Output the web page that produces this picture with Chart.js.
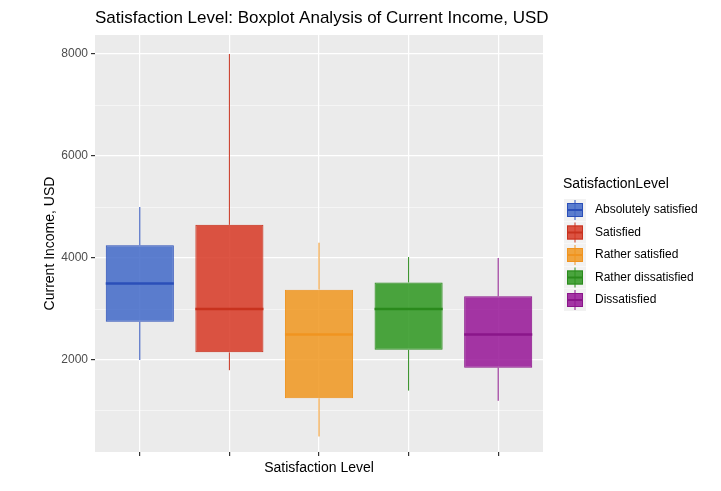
<!DOCTYPE html>
<html><head><meta charset="utf-8">
<script src="https://cdn.jsdelivr.net/npm/chart.js@4"></script>
<style>html,body{margin:0;padding:0;background:#fff}#w{width:721px;height:491px}</style>
</head><body><div id="w"><canvas id="c"></canvas></div>
<script>
const categories = ["Absolutely satisfied","Satisfied","Rather satisfied","Rather dissatisfied","Dissatisfied"];
const whiskerMin = [2000,1800,500,1400,1200];
const q1 = [2750,2150,1250,2200,1850];
const median = [3500,3000,2500,3000,2500];
const q3 = [4250,4650,3380,3520,3250];
const whiskerMax = [5000,8000,4300,4020,4000];
const fills = ["rgba(65,105,200,0.85)","rgba(215,55,35,0.85)","rgba(240,150,30,0.85)","rgba(45,150,30,0.85)","rgba(150,20,150,0.85)"];
const lines = ["#2b4fb8","#c8321e","#f09420","#2a8a1c","#8a168a"];
const yTicks = [2000,4000,6000,8000];
const F = "Arial, 'Liberation Sans', sans-serif";

const overlay = {
  id:'overlay',
  beforeDraw(ch){
    const {ctx, chartArea:a} = ch;
    ctx.save(); ctx.fillStyle='#EBEBEB'; ctx.fillRect(a.left,a.top,a.right-a.left,a.bottom-a.top); ctx.restore();
  },
  afterDatasetsDraw(ch){
    const ctx=ch.ctx, x=ch.scales.x, y=ch.scales.y, meta=ch.getDatasetMeta(0);
    ctx.save();
    categories.forEach((c,i)=>{
      const bar=meta.data[i], cx=x.getPixelForValue(i), hw=bar.width/2;
      ctx.strokeStyle=lines[i]; ctx.lineWidth=1;
      ctx.beginPath();
      ctx.moveTo(cx,y.getPixelForValue(whiskerMin[i])); ctx.lineTo(cx,y.getPixelForValue(q1[i]));
      ctx.moveTo(cx,y.getPixelForValue(q3[i])); ctx.lineTo(cx,y.getPixelForValue(whiskerMax[i]));
      ctx.stroke();
      ctx.lineWidth=2.5; ctx.beginPath();
      const my=y.getPixelForValue(median[i]);
      ctx.moveTo(cx-hw,my); ctx.lineTo(cx+hw,my); ctx.stroke();
    });
    ctx.restore();
  },
  afterDraw(ch){
    const ctx=ch.ctx, a=ch.chartArea;
    ctx.save(); ctx.fillStyle='#000';
    ctx.font='17px '+F; ctx.textBaseline='middle'; ctx.textAlign='left';
    ctx.fillText('Satisfaction Level: Boxplot Analysis of Current Income, USD', a.left, 18);
    ctx.font='14px '+F; ctx.textAlign='center';
    ctx.fillText('Satisfaction Level',(a.left+a.right)/2,468);
    ctx.translate(50,(a.top+a.bottom)/2); ctx.rotate(-Math.PI/2); ctx.fillText('Current Income, USD',0,0);
    ctx.restore();
    ctx.save(); ctx.textBaseline='middle'; ctx.textAlign='left';
    ctx.font='14px '+F; ctx.fillStyle='#000'; ctx.fillText('SatisfactionLevel',563,184);
    ctx.font='12px '+F;
    categories.forEach((c,i)=>{
      const cy=210+i*22.5;
      ctx.fillStyle='#F2F2F2'; ctx.fillRect(564,cy-11,22,22);
      ctx.strokeStyle=lines[i]; ctx.lineWidth=1;
      ctx.beginPath(); ctx.moveTo(575,cy-10); ctx.lineTo(575,cy+10); ctx.stroke();
      ctx.fillStyle=fills[i]; ctx.fillRect(567,cy-7,16,14); ctx.strokeRect(567.5,cy-6.5,15,13);
      ctx.lineWidth=2; ctx.beginPath(); ctx.moveTo(567,cy); ctx.lineTo(583,cy); ctx.stroke();
      ctx.fillStyle='#000'; ctx.fillText(c,595,cy);
    });
    ctx.restore();
  }
};

new Chart(document.getElementById('c'),{
  type:'bar',
  data:{labels:categories,datasets:[{
    data:categories.map((c,i)=>[q1[i],q3[i]]),
    backgroundColor:fills, borderColor:lines, borderWidth:1, borderSkipped:false,
    barPercentage:0.76, categoryPercentage:1
  }]},
  options:{
    responsive:true, maintainAspectRatio:false, animation:false,
    layout:{padding:{top:35,right:178,left:0,bottom:0}},
    plugins:{legend:{display:false},tooltip:{enabled:false}},
    scales:{
      x:{afterFit(s){s.height=39;},
        grid:{color:'#fff',lineWidth:1.2,offset:false,tickColor:'#333',tickLength:4,drawTicks:true},
        border:{display:false},
        ticks:{display:true,callback:()=>''}},
      y:{min:196,max:8373,afterFit(s){s.width=95;},
        afterBuildTicks(s){s.ticks=[1000,2000,3000,4000,5000,6000,7000,8000].map(v=>({value:v}));},
        grid:{color:'#fff',lineWidth:c=>(c.tick&&yTicks.includes(c.tick.value))?1.2:0.5,
          tickColor:c=>(c.tick&&yTicks.includes(c.tick.value))?'#333':'rgba(0,0,0,0)',tickLength:4},
        border:{display:false},
        ticks:{color:'#4d4d4d',font:{size:12,family:F},padding:3,
          callback:v=>yTicks.includes(v)?String(v):''}}
    }
  },
  plugins:[overlay]
});
</script></body></html>
